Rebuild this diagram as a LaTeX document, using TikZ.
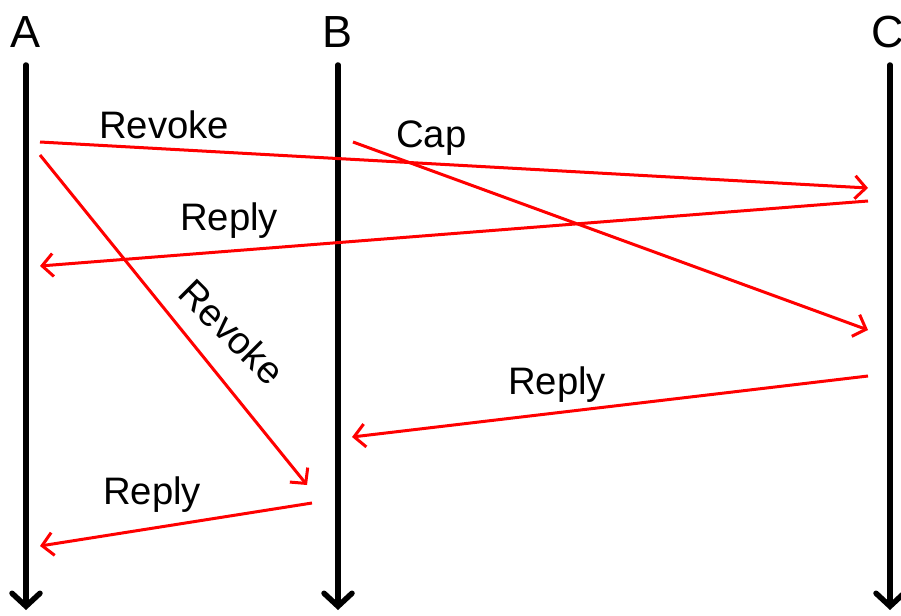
\documentclass[tikz,border=0pt]{standalone}
\usepackage{fontspec}
\setmainfont{Liberation Sans}
\usetikzlibrary{arrows.meta}
\begin{document}
\begin{tikzpicture}[x=1pt,y=-1pt,
  lifeline/.style={line width=5.5pt,line cap=round,-{Straight Barb[length=13pt,width=28pt,line cap=round]}},
  msg/.style={red,line width=3pt,-{Straight Barb[length=11pt,width=23pt]}},
  head/.style={font=\fontsize{45}{50}\selectfont,anchor=center,inner sep=0pt},
  lbl/.style={font=\fontsize{38.3}{42}\selectfont,anchor=base west,inner sep=0pt}]
\useasboundingbox (0,0) rectangle (901,615);
% lifelines
\node[head] (hA) at (26,32) {A};
\node[head] (hB) at (338,32) {B};
\node[head] (hC) at (888,32) {C};
\coordinate (atop) at (26,65);  \coordinate (abot) at (26,610);
\coordinate (btop) at (338,65); \coordinate (bbot) at (338,610);
\coordinate (ctop) at (890,65); \coordinate (cbot) at (890,610);
\draw[lifeline] (atop) -- (abot);
\draw[lifeline] (btop) -- (bbot);
\draw[lifeline] (ctop) -- (cbot);
% message end points
\coordinate (a1) at (40,142);  \coordinate (c1) at (868,188);
\coordinate (c2) at (868,201); \coordinate (a2) at (40,266);
\coordinate (b3) at (353,142); \coordinate (c3) at (868,330);
\coordinate (a4) at (40,155);  \coordinate (b4) at (307,485);
\coordinate (c5) at (868,376); \coordinate (b5) at (352,437);
\coordinate (b6) at (312,503); \coordinate (a6) at (40,546);
\draw[msg] (a1) -- (c1);
\draw[msg] (c2) -- (a2);
\draw[msg] (b3) -- (c3);
\draw[msg] (a4) -- (b4);
\draw[msg] (c5) -- (b5);
\draw[msg] (b6) -- (a6);
% labels
\node[lbl] (l1) at (99,138) {Revoke};
\node[lbl] (l2) at (180,230) {Reply};
\node[lbl] (l3) at (396,147) {Cap};
\node[lbl,anchor=center,rotate=-45] (l4) at (232,332) {Revoke};
\node[lbl] (l5) at (508,394) {Reply};
\node[lbl] (l6) at (103,504) {Reply};
\end{tikzpicture}
\end{document}
